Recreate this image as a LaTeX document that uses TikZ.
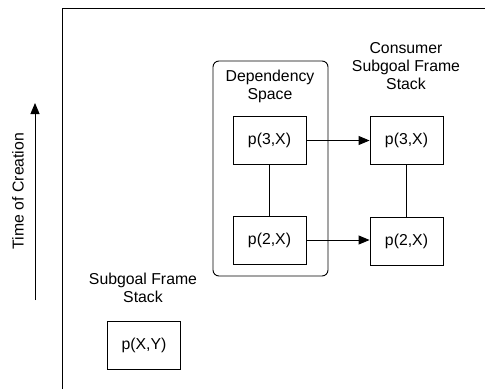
\documentclass[tikz,border=0pt]{standalone}
\usepackage{fontspec}
\setmainfont{Liberation Sans}
\usetikzlibrary{arrows.meta}
\begin{document}
\begin{tikzpicture}[x=1pt,y=-1pt,
  every node/.style={font=\fontsize{15.8}{18}\selectfont},
  pbox/.style={draw,line width=0.9pt,minimum width=73pt,minimum height=48pt,inner sep=0pt},
  lbl/.style={align=center,inner sep=0pt},
  arr/.style={line width=0.9pt,-{Triangle[length=11pt,width=9pt]}},
  conn/.style={line width=0.9pt}]
\useasboundingbox (0,0) rectangle (485,389);
\coordinate (fbl) at (62,389);
\coordinate (ftl) at (62,8);
\coordinate (ftr) at (486,8);
\draw[line width=0.9pt] (fbl) -- (ftl) -- (ftr);
\draw[line width=0.9pt,rounded corners=6pt] (213,61) rectangle (328,276);
\node[lbl] (dep) at (270,86) {Dependency\\Space};
\node[pbox] (l3) at (269.5,140.5) {p(3,X)};
\node[pbox] (l2) at (269.5,240) {p(2,X)};
\node[pbox] (r3) at (406.5,140) {p(3,X)};
\node[pbox] (r2) at (406.5,241) {p(2,X)};
\node[lbl] (cons) at (406,66) {Consumer\\Subgoal Frame\\Stack};
\node[lbl] (sfs) at (143,288) {Subgoal Frame\\Stack};
\node[pbox] (pxy) at (144,345) {p(X,Y)};
\draw[conn] (l3) -- (l2);
\draw[conn] (r3) -- (r2);
\draw[arr] (l3.east) -- (l3.east -| r3.west);
\draw[arr] (l2.east) -- (l2.east -| r2.west);
\coordinate (tb) at (35,300);
\coordinate (tt) at (35,103);
\draw[arr] (tb) -- (tt);
\node[lbl,rotate=90] (toc) at (18,191) {Time of Creation};
\end{tikzpicture}
\end{document}
